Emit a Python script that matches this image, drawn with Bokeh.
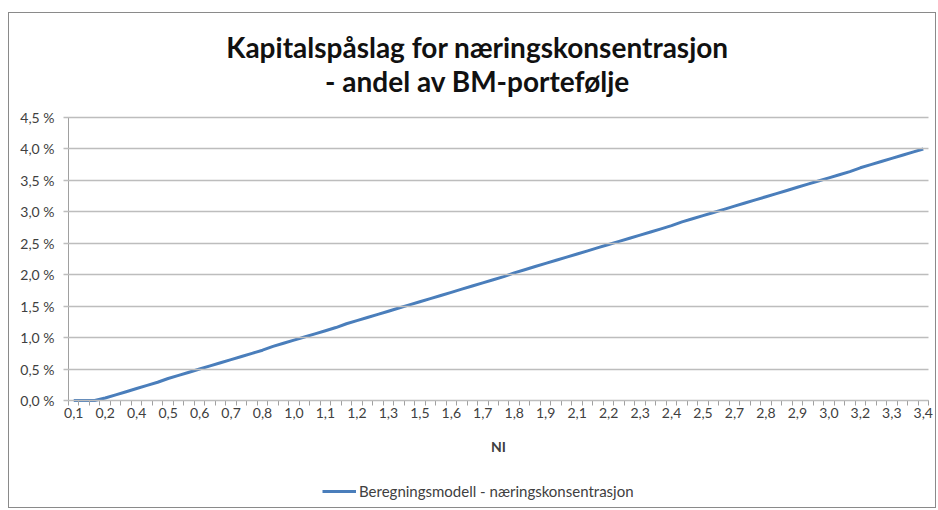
from bokeh.plotting import figure
from bokeh.models import FixedTicker, Label, Legend, LegendItem, Range1d
from bokeh.embed import file_html
from bokeh.resources import INLINE

# ---- data ----
title_lines = ["Kapitalspåslag for næringskonsentrasjon", "- andel av BM-portefølje"]
series_name = "Beregningsmodell - næringskonsentrasjon"
x_title = "NI"

# NI tick labels (one every third category)
ni_labels = ["0,1", "0,2", "0,4", "0,5", "0,6", "0,7", "0,8", "1,0", "1,1", "1,2",
             "1,3", "1,5", "1,6", "1,7", "1,8", "1,9", "2,1", "2,2", "2,3", "2,4",
             "2,5", "2,7", "2,8", "2,9", "3,0", "3,2", "3,3", "3,4"]
label_every = 3

# capital add-on in percent, one value per NI category
addon_pct = [0.00, 0.00, 0.00, 0.04, 0.09, 0.14, 0.19, 0.24, 0.29, 0.35,
             0.40, 0.45, 0.50, 0.55, 0.60, 0.65, 0.70, 0.75, 0.80, 0.86,
             0.91, 0.96, 1.01, 1.06, 1.11, 1.16, 1.22, 1.27, 1.32, 1.37,
             1.42, 1.47, 1.52, 1.57, 1.62, 1.67, 1.72, 1.77, 1.82, 1.87,
             1.92, 1.97, 2.03, 2.08, 2.13, 2.18, 2.23, 2.28, 2.33, 2.38,
             2.43, 2.48, 2.53, 2.58, 2.63, 2.68, 2.73, 2.78, 2.84, 2.89,
             2.94, 2.99, 3.04, 3.09, 3.14, 3.19, 3.24, 3.29, 3.34, 3.39,
             3.44, 3.49, 3.54, 3.59, 3.64, 3.70, 3.75, 3.80, 3.85, 3.90,
             3.95, 4.00]

y_ticks = [0.0, 0.5, 1.0, 1.5, 2.0, 2.5, 3.0, 3.5, 4.0, 4.5]
y_tick_labels = ["0,0 %", "0,5 %", "1,0 %", "1,5 %", "2,0 %", "2,5 %", "3,0 %", "3,5 %", "4,0 %", "4,5 %"]

# ---- layout (pixels inside the chart box) ----
n = len(addon_pct)
cats = list(range(n))
FONT = "Lato"
TXT = "#404040"
AXIS = "#a0a0a0"
GRID = "#bdbdbd"

W, H = 928, 496
PX_L, PX_R = 59, 919    # plot area left / right
PX_T, PX_B = 104, 387   # plot area top (4.5 %) / bottom (0 %)
y_max = y_ticks[-1]
ppc = (PX_R - PX_L) / n
ppy = (PX_B - PX_T) / y_max

p = figure(width=W, height=H, output_backend="svg", toolbar_location=None,
           x_range=Range1d(-0.5 - PX_L / ppc, n - 0.5 + (W - PX_R) / ppc),
           y_range=Range1d(-(H - PX_B) / ppy, y_max + PX_T / ppy),
           min_border_left=0, min_border_right=0, min_border_top=0, min_border_bottom=0)
p.margin = (12, 0, 0, 8)
p.styles = {"border": "1px solid #8a8a8a"}
p.outline_line_color = None
p.background_fill_color = "white"
p.border_fill_color = "white"
p.xgrid.grid_line_color = None
p.ygrid.grid_line_color = None

line = p.line(cats, addon_pct, line_color="#4a7ebb", line_width=3)

# x axis, pinned to the zero line
major = [i for i in range(0, n, label_every)]
p.xaxis.fixed_location = 0
p.xaxis.bounds = (-0.5, n - 0.5)
p.xaxis.ticker = FixedTicker(ticks=major, minor_ticks=[i - 0.5 for i in range(n + 1)])
p.xaxis.major_label_overrides = {m: lab for m, lab in zip(major, ni_labels)}
p.xaxis.major_tick_out = 0
p.xaxis.major_tick_in = 0
p.xaxis.minor_tick_out = 5
p.xaxis.minor_tick_in = 0
p.xaxis.minor_tick_line_color = AXIS
p.xaxis.axis_line_color = AXIS
p.xaxis.major_label_standoff = 2
p.xaxis.major_label_text_font = FONT
p.xaxis.major_label_text_font_size = "14px"
p.xaxis.major_label_text_color = TXT
p.xaxis.axis_label = x_title
p.xaxis.axis_label_text_font = FONT
p.xaxis.axis_label_text_font_size = "14px"
p.xaxis.axis_label_text_font_style = "bold"
p.xaxis.axis_label_text_color = TXT
p.xaxis.axis_label_standoff = 17

# y axis, pinned to the left edge of the plot area; its inner ticks form the gridlines
p.yaxis.fixed_location = -0.5
p.yaxis.bounds = (0, y_max)
p.yaxis.ticker = FixedTicker(ticks=y_ticks)
p.yaxis.major_label_overrides = {t: lab for t, lab in zip(y_ticks, y_tick_labels)}
p.yaxis.major_tick_out = 5
p.yaxis.major_tick_in = PX_R - PX_L
p.yaxis.major_tick_line_color = GRID
p.yaxis.major_tick_line_width = 1.5
p.yaxis.minor_tick_line_color = None
p.yaxis.axis_line_color = AXIS
p.yaxis.major_label_standoff = 9
p.yaxis.major_label_text_font = FONT
p.yaxis.major_label_text_font_size = "14px"
p.yaxis.major_label_text_color = TXT

# title (screen units: from the frame's bottom-left, y upwards)
for t, cy in zip(title_lines, [33, 67]):
    p.add_layout(Label(x=468, y=H - cy, x_units="screen", y_units="screen",
                       text=t, text_font=FONT, text_font_style="bold", text_font_size="28px",
                       text_color="#111111", text_align="center", text_baseline="middle"))

# legend under the axis
legend = Legend(items=[LegendItem(label=series_name, renderers=[line])],
                location=(313, H - 488), orientation="horizontal",
                label_text_font=FONT, label_text_font_size="15px", label_text_color=TXT,
                glyph_width=34, glyph_height=20, label_standoff=3,
                padding=0, margin=0, border_line_color=None, background_fill_alpha=0)
p.add_layout(legend)

open("out.html", "w").write(file_html(p, INLINE))
